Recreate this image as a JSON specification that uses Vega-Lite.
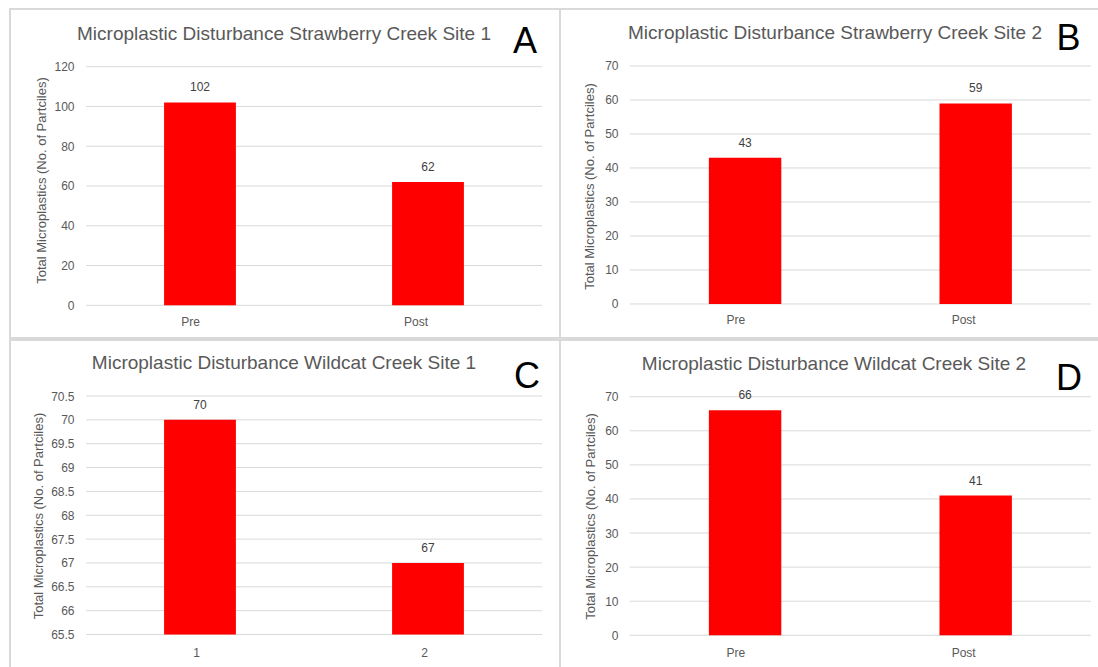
{
  "$schema": "https://vega.github.io/schema/vega-lite/v6.json",
  "background": "white",
  "padding": {"left": 9, "top": 8, "right": 0, "bottom": 0},
  "config": {
    "view": {"stroke": "#d9d9d9", "strokeWidth": 2, "fill": "white"},
    "font": "Liberation Sans",
    "title": {"font": "Liberation Sans", "fontSize": 19, "fontWeight": "normal", "color": "#595959", "anchor": "middle", "frame": "group", "baseline": "middle"},
    "axis": {"labelFont": "Liberation Sans", "labelFontSize": 12, "labelColor": "#595959", "titleFont": "Liberation Sans", "titleFontSize": 13, "titleFontWeight": "normal", "titleColor": "#595959", "domain": false, "ticks": false, "grid": false, "labelFlush": false, "labelOverlap": false}
  },
  "datasets": {
    "siteA": [{"period": "Pre", "count": 102}, {"period": "Post", "count": 62}],
    "siteB": [{"period": "Pre", "count": 43}, {"period": "Post", "count": 59}],
    "siteC": [{"period": "1", "count": 70}, {"period": "2", "count": 67}],
    "siteD": [{"period": "Pre", "count": 66}, {"period": "Post", "count": 41}],
    "ticksA": [{"v": 0}, {"v": 20}, {"v": 40}, {"v": 60}, {"v": 80}, {"v": 100}, {"v": 120}],
    "ticksB": [{"v": 0}, {"v": 10}, {"v": 20}, {"v": 30}, {"v": 40}, {"v": 50}, {"v": 60}, {"v": 70}],
    "ticksC": [{"v": 65.5}, {"v": 66}, {"v": 66.5}, {"v": 67}, {"v": 67.5}, {"v": 68}, {"v": 68.5}, {"v": 69}, {"v": 69.5}, {"v": 70}, {"v": 70.5}],
    "ticksD": [{"v": 0}, {"v": 10}, {"v": 20}, {"v": 30}, {"v": 40}, {"v": 50}, {"v": 60}, {"v": 70}]
  },
  "spacing": 0,
  "vconcat": [
    {
      "spacing": 0,
      "bounds": "flush",
      "hconcat": [
        {
          "width": 550,
          "height": 329,
          "title": {"text": "Microplastic Disturbance Strawberry Creek Site 1", "offset": -34.5, "dx": -1},
          "layer": [
            {
              "data": {"name": "ticksA"},
              "mark": {"type": "rule", "color": "#d9d9d9", "strokeWidth": 1},
              "encoding": {
                "y": {"field": "v", "type": "quantitative"},
                "x": {"datum": "Pre", "bandPosition": 0},
                "x2": {"datum": "Post", "bandPosition": 1}
              }
            },
            {
              "data": {"name": "siteA"},
              "mark": {"type": "bar", "color": "#ff0000", "width": {"band": 0.315}},
              "encoding": {
                "x": {"field": "period", "type": "nominal", "sort": ["Pre", "Post"],
                      "scale": {"type": "band", "paddingInner": 0, "paddingOuter": 0.2061, "align": 0.8085},
                      "axis": {"title": null, "labelAngle": 0, "offset": -32.7, "labelPadding": 16}},
                "y": {"field": "count", "type": "quantitative",
                      "scale": {"domain": [-16.45, 149.0], "nice": false, "zero": false},
                      "axis": {"values": [0, 20, 40, 60, 80, 100, 120], "tickCount": 20, "offset": -76, "labelPadding": 12, "labelOverlap": false,
                               "title": "Total Microplastics  (No. of Partciles)", "titleX": -44.3, "titleY": 171,
                               "titleAngle": -90, "titleBaseline": "middle", "titleAlign": "center"}},
                "y2": {"datum": 0}
              }
            },
            {
              "data": {"name": "siteA"},
              "mark": {"type": "text", "dy": -15, "fontSize": 12, "color": "#404040", "baseline": "middle"},
              "encoding": {
                "x": {"field": "period", "type": "nominal", "sort": ["Pre", "Post"]},
                "y": {"field": "count", "type": "quantitative"},
                "text": {"field": "count", "type": "quantitative"}
              }
            },
            {
              "data": {"values": [{"panel": "A"}]},
              "mark": {"type": "text", "fontSize": 36, "color": "#000000", "baseline": "middle", "align": "center"},
              "encoding": {
                "x": {"datum": "Post", "bandPosition": 0.925},
                "y": {"datum": 132.4},
                "text": {"field": "panel"}
              }
            }
          ]
        },
        {
          "width": 539,
          "height": 329,
          "title": {"text": "Microplastic Disturbance Strawberry Creek Site 2", "offset": -34, "dx": 5.5},
          "layer": [
            {
              "data": {"name": "ticksB"},
              "mark": {"type": "rule", "color": "#d9d9d9", "strokeWidth": 1},
              "encoding": {
                "y": {"field": "v", "type": "quantitative"},
                "x": {"datum": "Pre", "bandPosition": 0},
                "x2": {"datum": "Post", "bandPosition": 1}
              }
            },
            {
              "data": {"name": "siteB"},
              "mark": {"type": "bar", "color": "#ff0000", "width": {"band": 0.314}},
              "encoding": {
                "x": {"field": "period", "type": "nominal", "sort": ["Pre", "Post"],
                      "scale": {"type": "band", "paddingInner": 0, "paddingOuter": 0.1687, "align": 0.897},
                      "axis": {"title": null, "labelAngle": 0, "offset": -34, "labelPadding": 15.5}},
                "y": {"field": "count", "type": "quantitative",
                      "scale": {"domain": [-10.0, 86.76], "nice": false, "zero": false},
                      "axis": {"values": [0, 10, 20, 30, 40, 50, 60, 70], "tickCount": 20, "offset": -70, "labelPadding": 12, "labelOverlap": false,
                               "title": "Total Microplastics  (No. of Partciles)", "titleX": -40.3, "titleY": 177,
                               "titleAngle": -90, "titleBaseline": "middle", "titleAlign": "center"}},
                "y2": {"datum": 0}
              }
            },
            {
              "data": {"name": "siteB"},
              "mark": {"type": "text", "dy": -15, "fontSize": 12, "color": "#404040", "baseline": "middle"},
              "encoding": {
                "x": {"field": "period", "type": "nominal", "sort": ["Pre", "Post"]},
                "y": {"field": "count", "type": "quantitative"},
                "text": {"field": "count", "type": "quantitative"}
              }
            },
            {
              "data": {"values": [{"panel": "B"}]},
              "mark": {"type": "text", "fontSize": 36, "color": "#000000", "baseline": "middle", "align": "center"},
              "encoding": {
                "x": {"datum": "Post", "bandPosition": 0.902},
                "y": {"datum": 77.8},
                "text": {"field": "panel"}
              }
            }
          ]
        }
      ]
    },
    {
      "spacing": 0,
      "bounds": "flush",
      "hconcat": [
        {
          "width": 550,
          "height": 328,
          "title": {"text": "Microplastic Disturbance Wildcat Creek Site 1", "offset": -33, "dx": -1},
          "layer": [
            {
              "data": {"name": "ticksC"},
              "mark": {"type": "rule", "color": "#d9d9d9", "strokeWidth": 1},
              "encoding": {
                "y": {"field": "v", "type": "quantitative"},
                "x": {"datum": "1", "bandPosition": 0},
                "x2": {"datum": "2", "bandPosition": 1}
              }
            },
            {
              "data": {"name": "siteC"},
              "mark": {"type": "bar", "color": "#ff0000", "width": {"band": 0.315}},
              "encoding": {
                "x": {"field": "period", "type": "nominal", "sort": ["1", "2"],
                      "scale": {"type": "band", "paddingInner": 0, "paddingOuter": 0.2061, "align": 0.8085},
                      "axis": {"title": null, "labelAngle": 0, "offset": -33.5, "labelPadding": 17.5}},
                "y": {"field": "count", "type": "quantitative",
                      "scale": {"domain": [64.798, 71.674], "nice": false, "zero": false},
                      "axis": {"values": [65.5, 66, 66.5, 67, 67.5, 68, 68.5, 69, 69.5, 70, 70.5], "tickCount": 20, "labelExpr": "datum.value", "offset": -76, "labelPadding": 12, "labelOverlap": false,
                               "title": "Total Microplastics  (No. of Partciles)", "titleX": -47.5, "titleY": 175.5,
                               "titleAngle": -90, "titleBaseline": "middle", "titleAlign": "center"}},
                "y2": {"datum": 65.5}
              }
            },
            {
              "data": {"name": "siteC"},
              "mark": {"type": "text", "dy": -15, "fontSize": 12, "color": "#404040", "baseline": "middle"},
              "encoding": {
                "x": {"field": "period", "type": "nominal", "sort": ["1", "2"]},
                "y": {"field": "count", "type": "quantitative"},
                "text": {"field": "count", "type": "quantitative"}
              }
            },
            {
              "data": {"values": [{"panel": "C"}]},
              "mark": {"type": "text", "fontSize": 36, "color": "#000000", "baseline": "middle", "align": "center"},
              "encoding": {
                "x": {"datum": "2", "bandPosition": 0.934},
                "y": {"datum": 70.898},
                "text": {"field": "panel"}
              }
            }
          ]
        },
        {
          "width": 539,
          "height": 328,
          "title": {"text": "Microplastic Disturbance Wildcat Creek Site 2", "offset": -34, "dx": 4.5},
          "layer": [
            {
              "data": {"name": "ticksD"},
              "mark": {"type": "rule", "color": "#d9d9d9", "strokeWidth": 1},
              "encoding": {
                "y": {"field": "v", "type": "quantitative"},
                "x": {"datum": "Pre", "bandPosition": 0},
                "x2": {"datum": "Post", "bandPosition": 1}
              }
            },
            {
              "data": {"name": "siteD"},
              "mark": {"type": "bar", "color": "#ff0000", "width": {"band": 0.314}},
              "encoding": {
                "x": {"field": "period", "type": "nominal", "sort": ["Pre", "Post"],
                      "scale": {"type": "band", "paddingInner": 0, "paddingOuter": 0.1687, "align": 0.897},
                      "axis": {"title": null, "labelAngle": 0, "offset": -32.7, "labelPadding": 17}},
                "y": {"field": "count", "type": "quantitative",
                      "scale": {"domain": [-9.59, 86.63], "nice": false, "zero": false},
                      "axis": {"values": [0, 10, 20, 30, 40, 50, 60, 70], "tickCount": 20, "offset": -70, "labelPadding": 12, "labelOverlap": false,
                               "title": "Total Microplastics  (No. of Partciles)", "titleX": -39.8, "titleY": 176,
                               "titleAngle": -90, "titleBaseline": "middle", "titleAlign": "center"}},
                "y2": {"datum": 0}
              }
            },
            {
              "data": {"name": "siteD"},
              "mark": {"type": "text", "dy": -15, "fontSize": 12, "color": "#404040", "baseline": "middle"},
              "encoding": {
                "x": {"field": "period", "type": "nominal", "sort": ["Pre", "Post"]},
                "y": {"field": "count", "type": "quantitative"},
                "text": {"field": "count", "type": "quantitative"}
              }
            },
            {
              "data": {"values": [{"panel": "D"}]},
              "mark": {"type": "text", "fontSize": 36, "color": "#000000", "baseline": "middle", "align": "center"},
              "encoding": {
                "x": {"datum": "Post", "bandPosition": 0.905},
                "y": {"datum": 75.3},
                "text": {"field": "panel"}
              }
            }
          ]
        }
      ]
    }
  ]
}
